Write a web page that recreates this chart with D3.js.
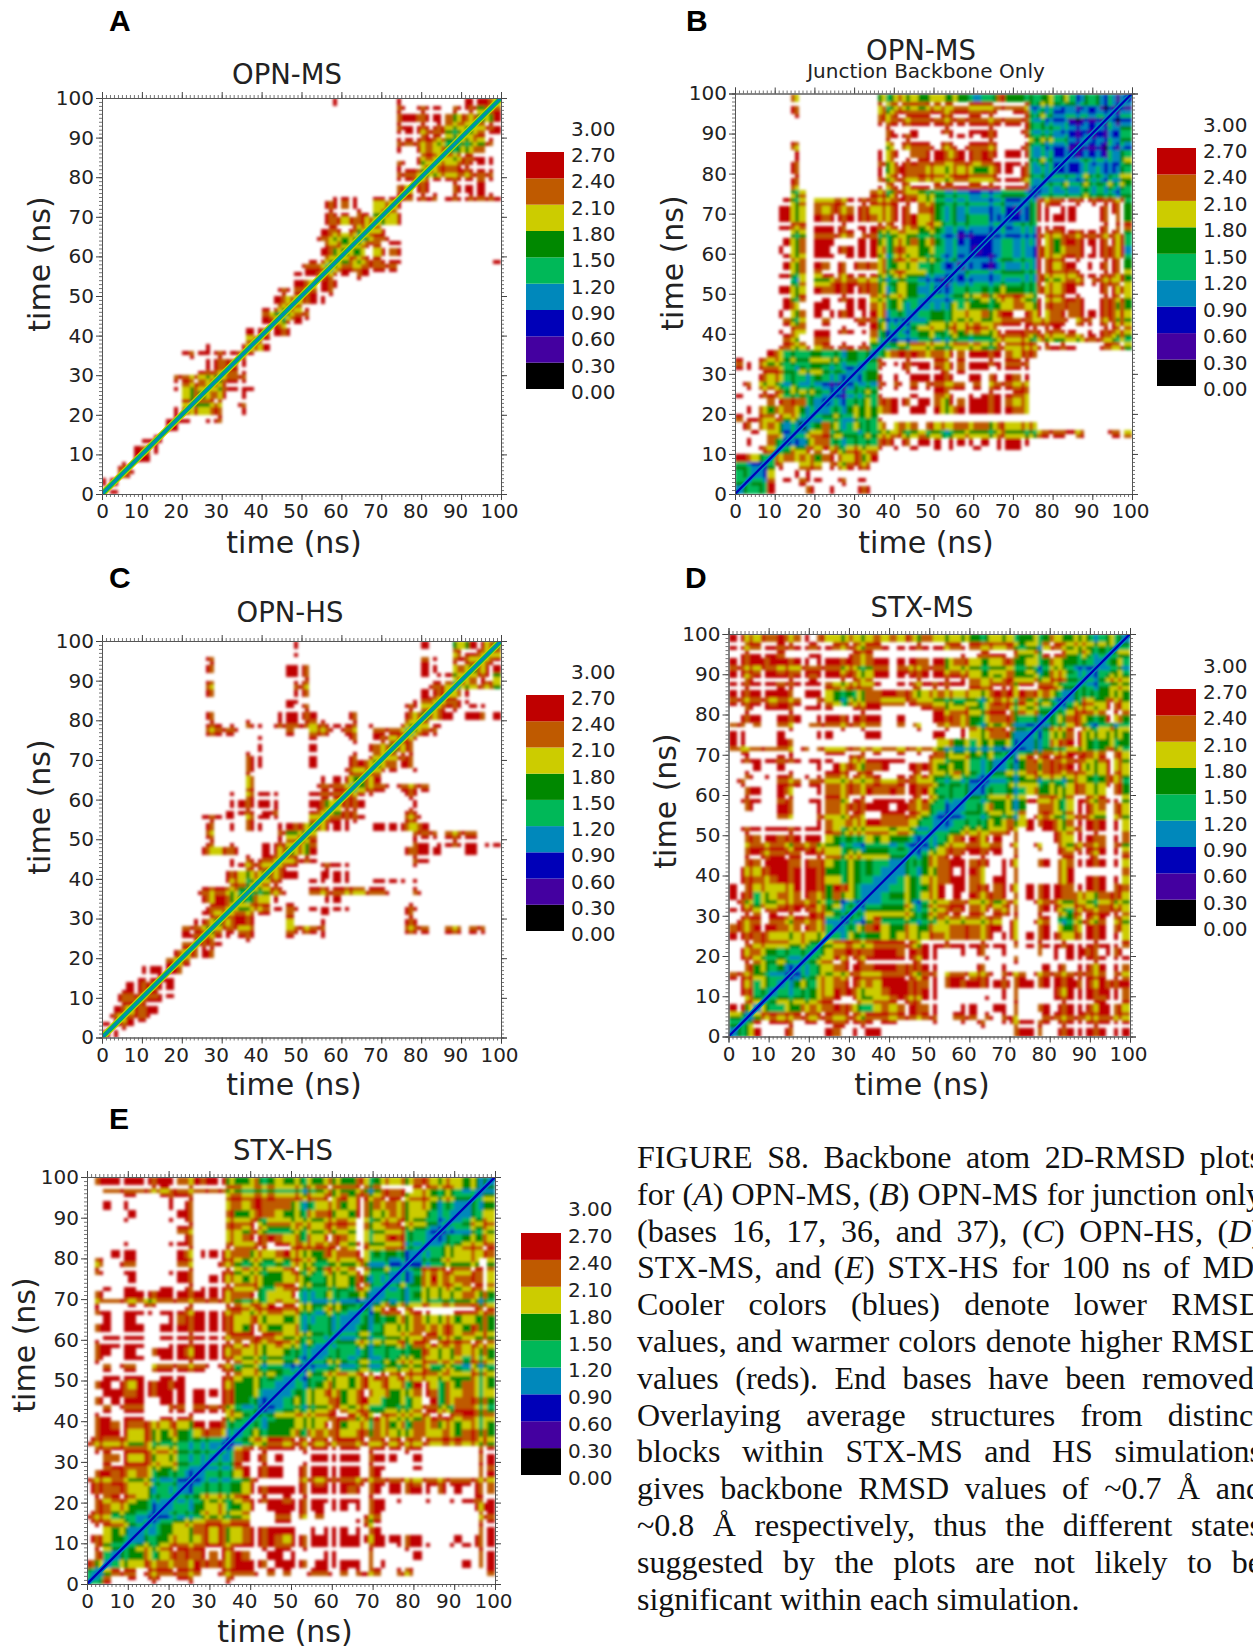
<!DOCTYPE html>
<html>
<head>
<meta charset="utf-8">
<script src="https://cdn.jsdelivr.net/npm/d3@7"></script>
<style>
html, body { margin: 0; padding: 0; background: #fff; overflow: hidden; }
#page { position: relative; width: 1253px; height: 1648px; overflow: hidden; }
svg { position: absolute; left: 0; top: 0; }
text { font-family: "DejaVu Sans", sans-serif; fill: #222; }
.letter { font-family: "Liberation Sans", sans-serif; font-weight: bold; fill: #000; }
#caption { position: absolute; left: 637px; top: 1139px; width: 625px;
  font-family: "Liberation Serif", serif; font-size: 32px; line-height: 36.8px; color: #111; }
#caption div { white-space: nowrap; }
</style>
</head>
<body>
<div id="page"><svg id="chart" width="1253" height="1648"></svg><div id="caption"></div></div>
<script>
// legend bands, RMSD in angstrom
const bandEdges = [0, 0.3, 0.6, 0.9, 1.2, 1.5, 1.8, 2.1, 2.4, 2.7];
const bandColors = ["#000000", "#4400a0", "#0000b8", "#0088bb", "#00b858", "#008800", "#cccc00", "#bf5a00", "#bf0000", "#ffffff"];
const bandLabels = ["0.00", "0.30", "0.60", "0.90", "1.20", "1.50", "1.80", "2.10", "2.40", "2.70", "3.00"];
const timeTicks = [0, 10, 20, 30, 40, 50, 60, 70, 80, 90, 100];

// Each row is 2 ns of the lower right triangle, starting on the diagonal.
// One char per 2 ns step to the right: the digit is the band index, "." is above 2.7
const opnMsRows = [
"88","8","88","8","88","78","78","8","88","78..88",
"77668..8","5668..8","5678.8","567888","6788","678","78","68","668","68",
"7888","7688","5688","668","6788","6788","6888","6788.88","568788888","556677888...........8",
"556.6878","5677.88","5688","568","6568","668","68","77887.8887778","688...8888","6788888878",
"667787888","56677888","5667788","55567","55668","55788","5678","558","67","6"];

const opnMsJunctionRows = [
"34458....7..8..87","3447.8.888..8.88","336..8.8","358..877.87887","46768657876758",
"34567686566568.8.8..8.8..8..888","22457744444478.8.888.888.8.8888",
"3456745434456655645445555565545677787...786","24686556557.788.87878788787778","2344434448",
"33445555688.88.866888888876","23344547888.88768788888766","1233448...8..778.8.888876","234448.8.8.88878.8.88877","32458.8.888888.88.8.878",
"2348..8.888787888.8888","347.88888778788888777","347788767787888887678","3445665555656557666787878...8675","3344554555455677776766677888665",
"33455556567668887887788.8.8776","344566666767788887788.88.8876","3445556667678.87867878888776","333454555556766877778..8765","23334456566755866788..8775",
"233444555554576678...8876","233344444445866788.88786","22333334434766668888775","123223333487678.8.8885","222234333766788888774",
"12334333765678.88773","2334334865788888874","333334877888888885","323348888....8.87","222588888...8.85",
"12588.88...8885","24767888878774","3344445545445","233434434444","23333433345",
"2223333244","223323235","22222344","2222333","212234","12234","2323","223","22","2"];

const opnHsRows = [
"88","888","7888","6778","6788","6788","788","78","88","78",
"6788","6788","6788.88....8...8","678878....78888..........888..88.88","56788....6...8..........88",
"667788..7...88.........8","556678878.88888.......88","55668......88","55678...8788787888...8","5678...88.88...8888.8",
"56788..8888","5688..8788........8","56788............78","5668...........87888..88","667............78.88888.88",
"67............888.8888","56888...8888768","567788.....77","5578......88","6788......8",
"6788....88","56788.8888","568","6688..8","56788","5678","568","678","5688","5688",
"5678.887.8","5688.88","5788","678","567876","56785","5688","568","56","5"];

const stxMsRows = [
"3468...8....87.8.88................8888..888888.88",
"358.888.88.878888.88....8...8.8..878888.888888888",
"467878887887887888788888..888.8.88...88888788877",
"35446567678865467678878...88..888..88.888878876",
"3455545678.86566786788......8.88....8888887887",
"344445668876667887888........88....8788888887",
"34554667887768887878.88788887888888887878778",
"3345667788778888788.888788.888.888888888.87",
"334567888788877888.....8..8....8.8.8878.87",
"34568787888888788......8..8....8.88888.88",
"4467878788878888...8.8..8...8.8.8878.87",
"4567666777776888888888888.8888888888887",
"444555565666677777777.87.8888767888.86",
"344678655665667777778.7..88.656888.76",
"34468555555577767777.8..88.556878.76",
"345555554456878778768..888646777776",
"34455564567888777678..888767667766",
"3345555668.8.877788.8888876667776",
"334455568.88788787.8888878888.77",
"3345566788877.888.....78.888.86",
"33445578.887..88.....78......7",
"345567888788.87..88.778888.86",
"334568788888.8.....878878.87",
"33468778878.8..8..867888.86",
"3346788788.8....8768887.87",
"33445565667.8.87667888.86",
"334445556668887678888.86",
"3345556557.886678876.76",
"334565545.876568877.76",
"344455458766568767885",
"33444446655667666.75",
"3344566555567666875",
"344456666666555765",
"33457677888566866",
"3357777777667865",
"334565676666865",
"33446888555545",
"3345678566555",
"345678545545",
"44677555865",
"3456666876","345776876","34455555","3334455","334555","34454","3454","345","34","3"];

const stxHsRows = [
"347..8.88..88....8",
"46888.8888888..88888.8.8..888.8.888..88.........8",
"34566777677877778888.8888.8888888.8.........8.88",
"34556567787878787..88.8...88...8.....8.......88",
"345556777778778888877888888888888.8888..8.88888",
"334556666767667888768888888887888888....8.888",
"33455667767667888888.8.888.888............88",
"3344566676777...88........868............88",
"334455666667...88.8.8.....88............88",
"334455665568.8888888.88.8888..........878",
"334455556788887888888888888.8..8..8.8788",
"3344445568888888888887888.88888.8.8.887",
"334445568.....887888878888887888888887",
"3344568.888..8888888888............88",
"233478.888..88888888888...8.......87",
"33478.8.8...88888888888..8.......88",
"3367888888888888888888888.......88",
"345678878887878878787887878 78 7776".replace(/ /g, "").slice(0, 33),
"34555556567676676766567667657765",
"4445555656875665765657676656655",
"344555656678756866565688767656",
"33455556687676556567887588765",
"3345556675677645556.85677765",
"334556765678665567875667656",
"33445656567676658865657655",
"3344556567876776666555655",
"334454455456576756654655".replace("334454455", "334454455"),
"33444344344565666564655",
"3344434444455766576665",
"334454545657687676776",
"33344445566776656565",
"3344456567677765765",
"334545667566656565",
"335778788...88777",
"3454555656566655",
"334445566567665",
"33444566656786",
"3335687677786",
"334677766786",
"334566666.6",
"3345566677","334456677","33445566","3344566","334566","33456","3445","345","34","3"];

// frames that stand out from their neighbours, one char per ns, 0 to 99: + one band up, - one band down.
// These make the fine plaid lines
const opnMsStripes = ".+...-.+....+..+...+..-+...+.-.+..+...+...+..-.+..+...+..-.+..+.-..+...+...+..+.-.+..+..-.+..+..+...";
const opnMsJunctionStripes = "..+....-..+...+.--.+.....+.-..+..+...+-..+.-.....+...-.+..+.....-..+....+..-.+.+...+..-.+..+.-+.-+..";
const opnHsStripes = "..+..-..+..+...+...-..+.+..-..+..+..-.+...+..+...+.-..+..+..+..-..+....+..+..-.+..+..+..-.+...+..+..";
const stxMsStripes = "..+.-...+......-..+....+....-.+..-..........+..-..+...-....+...-.+...++-....+-..+..-..+.+..-...+.+.....";
const stxHsStripes = "+.-.....+.....+.-....+...-...+..+.-......+.-.......+.-+....+.+.....++-...+...+-...+...-.+.....+.-+..";

// diagonal band: half width in ns and band index, widest first
const narrowDiagonal = [[1.2, 6], [0.8, 4], [0.4, 3]];
const blueDiagonal = [[0.9, 3], [0.4, 2]];

const captionLines = [
"FIGURE S8. Backbone atom 2D-RMSD plots",
"for (<i>A</i>) OPN-MS, (<i>B</i>) OPN-MS for junction only",
"(bases 16, 17, 36, and 37), (<i>C</i>) OPN-HS, (<i>D</i>)",
"STX-MS, and (<i>E</i>) STX-HS for 100 ns of MD.",
"Cooler colors (blues) denote lower RMSD",
"values, and warmer colors denote higher RMSD",
"values (reds). End bases have been removed.",
"Overlaying average structures from distinct",
"blocks within STX-MS and HS simulations",
"gives backbone RMSD values of ~0.7 Å and",
"~0.8 Å respectively, thus the different states",
"suggested by the plots are not likely to be",
"significant within each simulation."];

const panels = [
  {letter: "A", lx: 109, ly: 31, title: "OPN-MS", tx: 287, ty: 84, rows: opnMsRows, stripes: opnMsStripes, diag: narrowDiagonal,
   x: [102, 501], y: [494, 98], bar: [526, 564, 389, 152], xt: [294, 553], yt: [50, 264]},
  {letter: "B", lx: 686, ly: 31, title: "OPN-MS", tx: 921, ty: 60, sub: "Junction Backbone Only", sx: 926, sy: 78, rows: opnMsJunctionRows, stripes: opnMsJunctionStripes, diag: blueDiagonal,
   x: [735, 1132], y: [494, 93.5], bar: [1157, 1196, 386, 148], xt: [926, 553], yt: [683, 263]},
  {letter: "C", lx: 109, ly: 588, title: "OPN-HS", tx: 290, ty: 622, rows: opnHsRows, stripes: opnHsStripes, diag: narrowDiagonal,
   x: [102, 501], y: [1037.5, 641], bar: [526, 564, 931, 695], xt: [294, 1095], yt: [50, 807]},
  {letter: "D", lx: 685, ly: 588, title: "STX-MS", tx: 922, ty: 617, rows: stxMsRows, stripes: stxMsStripes, diag: blueDiagonal,
   x: [728.5, 1130], y: [1036.5, 634], bar: [1156, 1196, 926, 689], xt: [922, 1095], yt: [676, 801]},
  {letter: "E", lx: 109, ly: 1129, title: "STX-HS", tx: 283, ty: 1160, rows: stxHsRows, stripes: stxHsStripes, diag: blueDiagonal,
   x: [87, 495], y: [1584, 1177], bar: [521, 561, 1475, 1233], xt: [285, 1642], yt: [35, 1345]}
];

const STEP = 2; // ns per row
const FRAME = 1; // ns per drawn cell
const stripeShift = {"+": 0.3, "-": -0.3, ".": 0};
const colorScale = d3.scaleThreshold().domain(bandEdges.slice(1)).range(bandColors);
const allEdges = bandLabels.map(Number);

function expandRows(rows, stripes) {
    const cells = [];
    const shift = t => stripeShift[stripes[t]] || 0;
    function addBlock(a0, b0, v) {
        for (let a = a0; a < a0 + STEP; a += FRAME) {
            for (let b = b0; b < b0 + STEP; b += FRAME) {
                const val = v + shift(a) + shift(b);
                if (val < 2.7) cells.push({a: a, b: b, v: Math.max(val, 0.05)});
            }
        }
    }
    rows.forEach((row, i) => {
        const t = i * STEP;
        row.split("").forEach((ch, k) => {
            if (ch === ".") return;
            const other = t + k * STEP;
            if (other >= 100) return;
            const v = bandEdges[+ch] + 0.15;
            addBlock(other, t, v);
            if (k > 0) addBlock(t, other, v);
        });
    });
    return cells;
}

const svg = d3.select("#chart");
const defs = svg.append("defs");
function addBlur(id, amount) {
    defs.append("filter").attr("id", id)
        .attr("x", "-5%").attr("y", "-5%").attr("width", "110%").attr("height", "110%")
        .append("feGaussianBlur").attr("stdDeviation", amount);
}
addBlur("soft", 1.5);
addBlur("softLine", 0.6);

function drawAxes(g, p, xScale, yScale) {
    const sides = [
        {gen: d3.axisBottom, scale: xScale, at: `translate(0,${p.y[0]})`, labels: true},
        {gen: d3.axisLeft, scale: yScale, at: `translate(${p.x[0]},0)`, labels: true},
        {gen: d3.axisTop, scale: xScale, at: `translate(0,${p.y[1]})`, labels: false},
        {gen: d3.axisRight, scale: yScale, at: `translate(${p.x[1]},0)`, labels: false}
    ];
    sides.forEach(s => {
        // minor ticks every ns
        const minor = g.append("g").attr("transform", s.at)
            .call(s.gen(s.scale).tickValues(d3.range(0, 101)).tickSize(3).tickFormat(""));
        minor.select(".domain").attr("stroke", "#777");
        minor.selectAll("line").attr("stroke", "#777");

        const major = g.append("g").attr("transform", s.at)
            .call(s.gen(s.scale).tickValues(timeTicks).tickSize(6).tickPadding(2)
                .tickFormat(s.labels ? d3.format("d") : ""));
        major.select(".domain").attr("stroke", "#555");
        major.selectAll("line").attr("stroke", "#444");
        major.selectAll("text").style("font-family", "DejaVu Sans").style("font-size", "20px").attr("fill", "#222");
    });
    // the x labels sit a little left of their ticks in the original
    g.selectAll("g").filter(function() { return d3.select(this).attr("transform") === sides[0].at; })
        .selectAll(".tick text")
        .attr("dy", "0.82em")
        .attr("dx", d => d === 0 ? 0 : (d === 100 ? -2 : -6));
}

function drawLegend(g, p) {
    const barScale = d3.scaleLinear().domain([0, 2.7]).range([p.bar[2], p.bar[3]]);
    g.selectAll("rect.band").data(bandEdges.slice(0, 9)).enter().append("rect")
        .attr("class", "band")
        .attr("x", p.bar[0])
        .attr("width", p.bar[1] - p.bar[0])
        .attr("y", d => barScale(d + 0.3))
        .attr("height", d => barScale(d) - barScale(d + 0.3))
        .attr("fill", d => colorScale(d + 0.15));
    g.selectAll("text.band").data(allEdges).enter().append("text")
        .attr("class", "band")
        .attr("x", p.bar[1] + 7)
        .attr("y", d => barScale(d) + 3)
        .attr("dy", "0.35em")
        .style("font-size", "20px")
        .text((d, i) => bandLabels[i]);
}

function drawPanel(p, idx) {
    const xScale = d3.scaleLinear().domain([0, 100]).range(p.x);
    const yScale = d3.scaleLinear().domain([0, 100]).range(p.y);
    const g = svg.append("g");

    defs.append("clipPath").attr("id", "clip" + idx).append("rect")
        .attr("x", p.x[0]).attr("y", p.y[1])
        .attr("width", p.x[1] - p.x[0]).attr("height", p.y[0] - p.y[1]);

    const clipped = g.append("g").attr("clip-path", `url(#clip${idx})`);
    clipped.append("g").attr("filter", "url(#soft)")
        .selectAll("rect").data(expandRows(p.rows, p.stripes)).enter().append("rect")
        .attr("x", d => xScale(d.a))
        .attr("y", d => yScale(d.b + FRAME))
        .attr("width", d => xScale(d.a + FRAME) - xScale(d.a))
        .attr("height", d => yScale(d.b) - yScale(d.b + FRAME))
        .attr("shape-rendering", "crispEdges")
        .attr("fill", d => colorScale(d.v));

    // band along the diagonal
    clipped.append("g").attr("filter", "url(#softLine)")
        .selectAll("polygon").data(p.diag).enter().append("polygon")
        .attr("fill", d => bandColors[d[1]])
        .attr("points", d => [[0, 0], [d[0], 0], [100, 100 - d[0]], [100, 100], [100 - d[0], 100], [0, d[0]]]
            .map(q => xScale(q[0]) + "," + yScale(q[1])).join(" "));

    drawAxes(g, p, xScale, yScale);
    drawLegend(g, p);

    g.append("text").attr("class", "letter").attr("x", p.lx).attr("y", p.ly)
        .style("font-size", "30px").text(p.letter);
    g.append("text").attr("x", p.tx).attr("y", p.ty).attr("text-anchor", "middle")
        .style("font-size", "27.5px").text(p.title);
    if (p.sub) {
        g.append("text").attr("x", p.sx).attr("y", p.sy).attr("text-anchor", "middle")
            .style("font-size", "20px").text(p.sub);
    }
    g.append("text").attr("x", p.xt[0]).attr("y", p.xt[1]).attr("text-anchor", "middle")
        .style("font-size", "30px").text("time (ns)");
    g.append("text").attr("transform", `translate(${p.yt[0]},${p.yt[1]}) rotate(-90)`).attr("text-anchor", "middle")
        .style("font-size", "30px").text("time (ns)");
}

panels.forEach(drawPanel);

// caption is justified by hand so the lines keep their breaks and run past the page edge like the original
const columnWidth = 625;
d3.select("#caption").selectAll("div").data(captionLines).enter().append("div")
    .html(d => `<span>${d}</span>`)
    .each(function(d, i) {
        if (i === captionLines.length - 1) return;
        const span = this.firstChild;
        const gaps = d.split(" ").length - 1;
        const natural = span.getBoundingClientRect().width;
        d3.select(this).style("word-spacing", ((columnWidth - natural) / gaps) + "px");
    });
</script>
</body>
</html>
